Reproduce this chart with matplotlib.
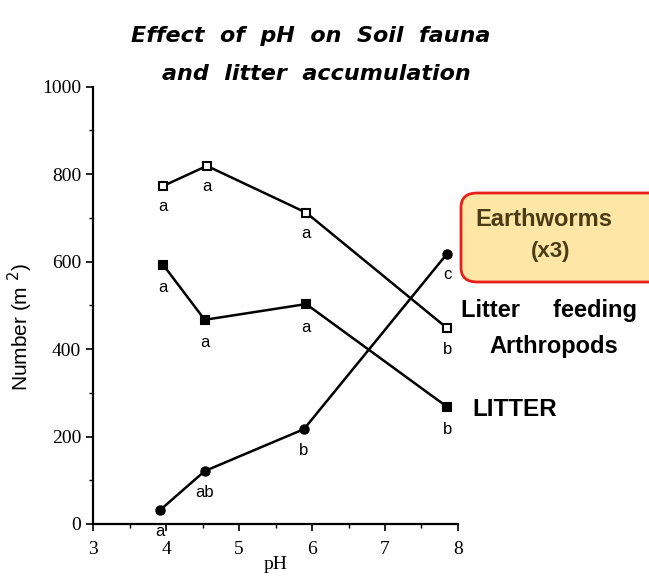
import matplotlib
matplotlib.use("Agg")
import matplotlib.pyplot as plt
from matplotlib.patches import FancyBboxPatch

# Valores
ph_artropodos = [3.96, 4.56, 5.92, 7.85]
artropodos = [773, 819, 712, 448]
letras_artropodos = ["a", "a", "a", "b"]

ph_litter = [3.96, 4.53, 5.92, 7.85]
litter = [593, 467, 503, 268]
letras_litter = ["a", "a", "a", "b"]

ph_lombrices = [3.92, 4.53, 5.89, 7.85]
lombrices = [32, 121, 217, 618]
letras_lombrices = ["a", "ab", "b", "c"]

fig = plt.figure(figsize=(6.49, 5.79), dpi=100)
ax = fig.add_axes([0.1433, 0.095, 0.5624, 0.7552])

kw = dict(color="black", lw=1.8, ms=6, mew=1.5)
ax.plot(ph_artropodos, artropodos, marker="s", mfc="white", mec="black", **kw)
ax.plot(ph_litter, litter, marker="s", mfc="black", mec="black", **kw)
ax.plot(ph_lombrices, lombrices, marker="o", mfc="black", mec="black", **kw)

serif = "Liberation Serif"
sans = "Liberation Sans"
ancha = "DejaVu Sans"


def letras(xs, ys, ls, dy):
    for x, y, l in zip(xs, ys, ls):
        ax.annotate(l, (x, y), xytext=(0, dy), textcoords="offset pixels",
                    ha="center", va="center", fontsize=12, family=sans)


letras(ph_artropodos, artropodos, letras_artropodos, -21)
letras(ph_litter, litter, letras_litter, -23)
letras(ph_lombrices, lombrices, letras_lombrices, -21)

ax.set_xlim(3, 8)
ax.set_ylim(0, 1000)
ax.set_xticks([3, 4, 5, 6, 7, 8])
ax.set_xticks([3.5, 4.5, 5.5, 6.5, 7.5], minor=True)
ax.set_yticks([0, 200, 400, 600, 800, 1000])
ax.set_yticks([100, 300, 500, 700, 900], minor=True)
ax.tick_params(which="major", length=5, width=1.2, labelsize=14)
ax.tick_params(axis="x", which="major", pad=7)
ax.tick_params(which="minor", length=3, width=1)
for lab in ax.get_xticklabels() + ax.get_yticklabels():
    lab.set_family(serif)
ax.spines["top"].set_visible(False)
ax.spines["right"].set_visible(False)
ax.spines["left"].set_linewidth(1.6)
ax.spines["bottom"].set_linewidth(1.6)
for l in ax.lines:
    l.set_clip_on(False)

ax.set_xlabel("pH", family=serif, fontsize=14, labelpad=-1)
ax.set_ylabel("Number (m $^{2}$)", family=sans, fontsize=15)
ax.yaxis.set_label_coords(-0.16, 0.45)

fig.text(0.478, 0.937, "Effect  of  pH  on  Soil  fauna", ha="center", va="center",
         fontsize=16, style="italic", weight="bold", family=ancha)
fig.text(0.488, 0.872, "and  litter  accumulation", ha="center", va="center",
         fontsize=16, style="italic", weight="bold", family=ancha)

# Recuadro de lombrices
caja = FancyBboxPatch((461 / 649, 1 - 282 / 579), 220 / 649, 89 / 579,
                      boxstyle="round,pad=0,rounding_size=0.025",
                      transform=fig.transFigure, facecolor="#fde6a6",
                      edgecolor="#e8201c", lw=2, clip_on=False)
fig.patches.append(caja)
fig.text(544 / 649, 1 - 219 / 579, "Earthworms", ha="center", va="center",
         fontsize=17, weight="bold", family=sans, color="#4a3c14")
fig.text(551 / 649, 1 - 251 / 579, "(x3)", ha="center", va="center",
         fontsize=16, weight="bold", family=sans, color="#4a3c14")

fig.text(549 / 649, 1 - 311 / 579, "Litter     feeding", ha="center", va="center",
         fontsize=17, weight="bold", family=sans)
fig.text(554 / 649, 1 - 347 / 579, "Arthropods", ha="center", va="center",
         fontsize=17, weight="bold", family=sans)
fig.text(472 / 649, 1 - 410 / 579, "LITTER", ha="left", va="center",
         fontsize=17.5, weight="bold", family=sans)

fig.savefig("out.png", dpi=100)
